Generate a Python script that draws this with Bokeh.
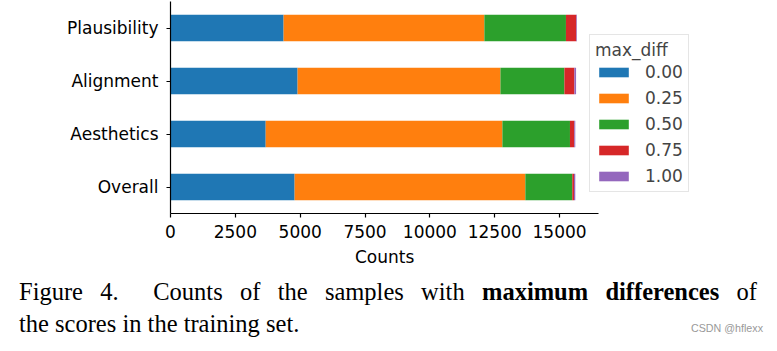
from bokeh.plotting import figure
from bokeh.models import FactorRange, Range1d, FixedTicker, Legend, LegendItem, Div, ColumnDataSource, Title
from bokeh.layouts import column
from bokeh.embed import file_html
from bokeh.resources import INLINE

categories = ["Overall", "Aesthetics", "Alignment", "Plausibility"]
levels = ["0.00", "0.25", "0.50", "0.75", "1.00"]
d000 = [4785, 3670, 4900, 4360]
d025 = [8895, 9125, 7820, 7740]
d050 = [1810, 2605, 2465, 3145]
d075 = [65, 165, 385, 400]
d100 = [50, 40, 65, 25]
colors = ["#1f77b4", "#ff7f0e", "#2ca02c", "#d62728", "#9467bd"]
x_ticks = [0, 2500, 5000, 7500, 10000, 12500, 15000]
x_max = 16500

keys = ["d000", "d025", "d050", "d075", "d100"]
source = ColumnDataSource(dict(cat=categories, d000=d000, d025=d025, d050=d050, d075=d075, d100=d100))

FONT = "DejaVu Sans"
FS = "17px"

# frame spans 170..760 px; axis line drawn only up to x_max (598 px)
frame_left, frame_right, axis_end_px = 170, 760, 598
x_view_end = x_max * (frame_right - frame_left) / (axis_end_px - frame_left)

p = figure(width=777, height=272, y_range=FactorRange(*categories, range_padding=0),
           x_range=Range1d(0, x_view_end), output_backend="svg", toolbar_location=None,
           min_border_left=frame_left, min_border_right=777 - frame_right,
           min_border_top=1, min_border_bottom=59)
p.outline_line_color = None
p.xgrid.grid_line_color = None
p.ygrid.grid_line_color = None

renderers = p.hbar_stack(keys, y="cat", height=0.5, color=colors, line_width=0, source=source)

p.xaxis.ticker = FixedTicker(ticks=x_ticks)
p.xaxis.bounds = (0, x_max)
for ax in (p.xaxis, p.yaxis):
    ax.axis_line_color = "black"
    ax.axis_line_width = 1.2
    ax.major_tick_line_color = "black"
    ax.major_tick_line_width = 1.2
    ax.major_tick_in = 0
    ax.major_tick_out = 4
    ax.minor_tick_line_color = None
    ax.major_label_text_font = FONT
    ax.major_label_text_font_size = FS
    ax.major_label_text_color = "black"
p.xaxis.major_label_standoff = 7
p.yaxis.major_label_standoff = 8

# x-axis label centred under the axis line (not the wider frame)
label_w = 59
axis_center = (frame_left + axis_end_px) / 2
p.add_layout(Title(text="Counts", align="left", offset=axis_center - frame_left - label_w / 2,
                   text_font=FONT, text_font_size=FS, text_font_style="normal",
                   text_color="black", standoff=9), "below")

items = [LegendItem(label=lv, renderers=[r]) for lv, r in zip(levels, renderers)]
legend = Legend(items=items, location=(419, 21), title="max_diff",
                title_text_font=FONT, title_text_font_size=FS, title_text_font_style="normal",
                title_standoff=2,
                label_text_font=FONT, label_text_font_size=FS,
                glyph_width=37, glyph_height=12, label_standoff=13, spacing=6,
                padding=5, margin=0, border_line_color="#cccccc", border_line_width=1,
                background_fill_alpha=1.0)
p.add_layout(legend, "center")

caption = Div(
    text=('<div style="width:738px;white-space:nowrap;text-align:justify;text-align-last:justify;">'
          'Figure 4.&nbsp; Counts of the samples with <b>maximum differences</b> of</div>'
          '<div style="position:relative;width:744px;">the scores in the training set.'
          '<span style="position:absolute;right:0;bottom:5px;font-family:\'Liberation Sans\';'
          'font-size:10.7px;line-height:14px;color:#999999;">CSDN @hflexx</span></div>'),
    width=777, height=79,
    styles={"font-family": "Liberation Serif", "font-size": "24.5px", "color": "black",
            "line-height": "32px", "padding-left": "14px", "margin-top": "4px"})

layout = column(p, caption, spacing=0)
open("out.html", "w").write(file_html(layout, INLINE))
